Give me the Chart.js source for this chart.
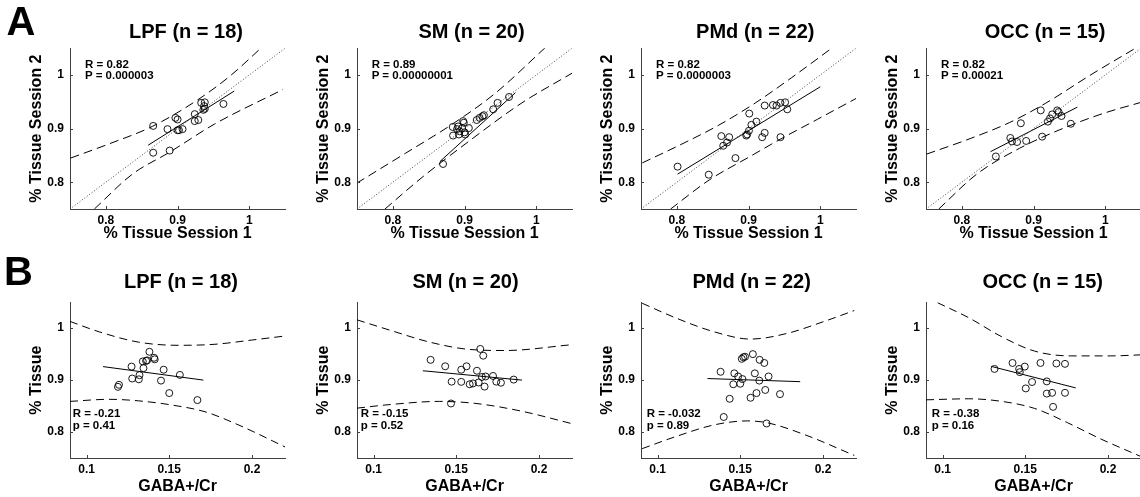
<!DOCTYPE html>
<html><head><meta charset="utf-8">
<script src="https://cdn.jsdelivr.net/npm/chart.js@4.4.1/dist/chart.umd.min.js"></script>
<style>
html,body{margin:0;padding:0;}
body{width:1140px;height:497px;overflow:hidden;background:#fff;position:relative;font-family:"Liberation Sans",Arial,sans-serif;}
.t{position:absolute;font-weight:bold;white-space:nowrap;color:#000;line-height:1;}
</style></head><body>
<script>
// ---------- text ----------
const panelLetters = ['A', 'B'];
const regionTitles = ['LPF (n = 18)', 'SM (n = 20)', 'PMd (n = 22)', 'OCC (n = 15)'];
const reliabilityStats = [['R = 0.82', 'P = 0.000003'], ['R = 0.89', 'P = 0.00000001'], ['R = 0.82', 'P = 0.0000003'], ['R = 0.82', 'P = 0.00021']];
const gabaStats = [['R = -0.21', 'p = 0.41'], ['R = -0.15', 'p = 0.52'], ['R = -0.032', 'p = 0.89'], ['R = -0.38', 'p = 0.16']];
const session1Title = '% Tissue Session 1';
const session2Title = '% Tissue Session 2';
const gabaTitle = 'GABA+/Cr';
const tissueTitle = '% Tissue';

// ---------- ticks ----------
const sessionTicks = [0.8, 0.9, 1];
const sessionTickLabels = ['0.8', '0.9', '1'];
const tissueTicks = [0.8, 0.9, 1];
const tissueTickLabels = ['0.8', '0.9', '1'];
const gabaTicks = [0.1, 0.15, 0.2];
const gabaTickLabels = ['0.1', '0.15', '0.2'];

// ---------- A: session reliability ----------
const lpfSession1 = [0.866,0.866,0.886,0.889,0.897,0.900,0.900,0.902,0.907,0.924,0.924,0.929,0.933,0.937,0.938,0.938,0.936,0.964];
const lpfSession2 = [0.905,0.855,0.899,0.859,0.920,0.917,0.897,0.897,0.899,0.914,0.927,0.916,0.948,0.942,0.949,0.937,0.935,0.946];
const lpfSessionFit = [[0.859,0.869],[0.979,0.970]];
const lpfSessionUpper = [[0.7508,0.845],[0.8055,0.872],[0.8647,0.904],[0.9285,0.954],[0.974,0.999],[1.017,1.051]];
const lpfSessionLower = [[0.784,0.750],[0.837,0.815],[0.889,0.856],[0.951,0.908],[1.047,0.973]];

const smSession1 = [0.870,0.8835,0.884,0.8896,0.891,0.892,0.893,0.8965,0.898,0.899,0.900,0.901,0.906,0.917,0.921,0.925,0.927,0.940,0.946,0.962];
const smSession2 = [0.834,0.903,0.887,0.899,0.904,0.889,0.895,0.901,0.914,0.911,0.893,0.889,0.901,0.916,0.920,0.923,0.925,0.936,0.948,0.959];
const smSessionFit = [[0.866,0.839],[0.971,0.967]];
const smSessionUpper = [[0.7494,0.798],[0.8176,0.854],[0.8826,0.908],[0.9429,0.966],[1.0125,1.051]];
const smSessionLower = [[0.789,0.750],[0.8408,0.809],[0.9057,0.876],[0.98,0.948],[1.052,1.005]];

const pmdSession1 = [0.801,0.8445,0.862,0.8647,0.870,0.873,0.8817,0.8968,0.898,0.901,0.9005,0.904,0.911,0.919,0.9225,0.9225,0.934,0.939,0.9445,0.9445,0.951,0.954];
const pmdSession2 = [0.829,0.814,0.886,0.868,0.874,0.884,0.845,0.887,0.889,0.928,0.896,0.907,0.913,0.884,0.892,0.943,0.944,0.943,0.948,0.884,0.949,0.936];
const pmdSessionFit = [[0.801,0.815],[1.0,0.978]];
const pmdSessionUpper = [[0.7518,0.836],[0.8128,0.875],[0.8587,0.9066],[0.9092,0.9476],[0.9596,0.9946],[1.017,1.051]];
const pmdSessionLower = [[0.7913,0.75],[0.845,0.804],[0.9,0.8464],[0.944,0.880],[0.9963,0.9175],[1.0505,0.9566]];

const occSession1 = [0.8474,0.8676,0.870,0.877,0.8823,0.8897,0.910,0.912,0.920,0.923,0.926,0.933,0.935,0.939,0.952];
const occSession2 = [0.848,0.8825,0.876,0.875,0.910,0.877,0.934,0.885,0.913,0.919,0.9265,0.934,0.931,0.9235,0.909];
const occSessionFit = [[0.840,0.857],[0.961,0.940]];
const occSessionUpper = [[0.7508,0.8524],[0.8115,0.8813],[0.8667,0.9114],[0.9172,0.9476],[0.9816,1.0018],[1.046,1.053]];
const occSessionLower = [[0.7678,0.75],[0.8207,0.815],[0.8805,0.8633],[0.9448,0.9024],[1.0,0.9295],[1.05,0.949]];

const identityLine = [[0.75,0.75],[1.05,1.05]];

// ---------- B: tissue vs GABA+/Cr ----------
const lpfGaba = [0.119,0.1196,0.1272,0.1276,0.1316,0.1320,0.134,0.1344,0.136,0.1366,0.138,0.1408,0.1412,0.145,0.1466,0.150,0.1564,0.167];
const lpfTissue = [0.887,0.891,0.926,0.903,0.9015,0.9095,0.936,0.923,0.937,0.938,0.9545,0.943,0.940,0.899,0.920,0.875,0.910,0.8615];
const lpfGabaFit = [[0.110,0.926],[0.1706,0.900]];
const lpfGabaUpper = [[0.09,1.013],[0.1076,0.993],[0.1316,0.973],[0.1556,0.967],[0.1776,0.969],[0.1996,0.977],[0.2202,0.985]];
const lpfGabaLower = [[0.09,0.859],[0.1136,0.863],[0.1316,0.860],[0.1516,0.852],[0.1716,0.839],[0.1916,0.814],[0.2202,0.771]];

const smGaba = [0.1345,0.1433,0.1472,0.1468,0.153,0.153,0.1562,0.1581,0.1601,0.1625,0.1635,0.1645,0.1655,0.1663,0.1671,0.1677,0.1722,0.1742,0.177,0.1847];
const smTissue = [0.939,0.9266,0.897,0.855,0.920,0.8966,0.9266,0.892,0.8936,0.918,0.8954,0.960,0.906,0.947,0.8875,0.907,0.908,0.897,0.895,0.901];
const smGabaFit = [[0.1298,0.918],[0.1897,0.900]];
const smGabaUpper = [[0.09,1.016],[0.1103,0.9957],[0.1341,0.973],[0.158,0.959],[0.1798,0.957],[0.2194,0.968]];
const smGabaLower = [[0.09,0.846],[0.1103,0.853],[0.14,0.859],[0.1619,0.855],[0.1897,0.840],[0.2194,0.8165]];

const pmdGaba = [0.1381,0.140,0.1436,0.1458,0.1464,0.1487,0.150,0.1509,0.1513,0.1519,0.1529,0.1562,0.1576,0.1588,0.1598,0.1615,0.1617,0.1645,0.1651,0.1659,0.1671,0.174];
const pmdTissue = [0.916,0.829,0.864,0.892,0.913,0.907,0.893,0.941,0.902,0.944,0.945,0.866,0.950,0.913,0.875,0.899,0.939,0.933,0.881,0.8165,0.907,0.873];
const pmdGabaFit = [[0.1302,0.903],[0.1862,0.897]];
const pmdGabaUpper = [[0.0907,1.048],[0.1108,1.020],[0.1345,0.9927],[0.1562,0.979],[0.1779,0.9896],[0.2016,1.014],[0.2189,1.034]];
const pmdGabaLower = [[0.0907,0.768],[0.1108,0.791],[0.1345,0.814],[0.1542,0.8214],[0.1661,0.818],[0.1897,0.794],[0.2189,0.755]];

const occGaba = [0.1314,0.1423,0.1463,0.1467,0.1497,0.1503,0.1541,0.1592,0.163,0.163,0.1662,0.1668,0.1688,0.174,0.174];
const occTissue = [0.9215,0.933,0.9215,0.9153,0.926,0.884,0.8963,0.933,0.8975,0.874,0.8755,0.8485,0.932,0.9313,0.8755];
const occGabaFit = [[0.1294,0.9264],[0.1805,0.885]];
const occGabaUpper = [[0.097,1.049],[0.1159,1.020],[0.1358,0.9834],[0.1557,0.9558],[0.1775,0.9466],[0.2014,0.9466],[0.2205,0.9487]];
const occGabaLower = [[0.09,0.862],[0.1159,0.864],[0.1358,0.859],[0.1557,0.8454],[0.1755,0.818],[0.1954,0.787],[0.2205,0.752]];

// ---------- layout ----------
const FONT = '"Liberation Sans", Arial, Helvetica, sans-serif';
const colLefts = [70, 357, 641, 926];
const plotW = 217;
const topRow = {top: 43, h: 166, xH: 38};
const botRow = {top: 297, h: 161, xH: 42};
const topTitleCenters = [186, 471.5, 755.3, 1045];
const botTitleCenters = [181, 465.5, 751.7, 1042.7];
const topStatLefts = [85, 371.7, 656, 941];
const botStatLefts = [72.7, 360.7, 646.7, 931.7];

function addText(txt, left, baseline, size, center) {
  const d = document.createElement('div');
  d.className = 't';
  d.textContent = txt;
  d.style.fontSize = size + 'px';
  d.style.top = (baseline - 0.8465 * size) + 'px';
  d.style.left = left + 'px';
  if (center) d.style.transform = 'translateX(-50%)';
  document.body.appendChild(d);
}

const innerTicks = {
  id: 'innerTicks',
  afterDraw(chart) {
    const {ctx, chartArea: a, scales} = chart;
    ctx.save();
    ctx.strokeStyle = '#404040';
    ctx.lineWidth = 1;
    ctx.beginPath();
    scales.x.ticks.forEach(t => {
      const px = Math.round(scales.x.getPixelForValue(t.value)) + 0.5;
      ctx.moveTo(px, a.bottom); ctx.lineTo(px, a.bottom - 3);
    });
    scales.y.ticks.forEach(t => {
      const py = Math.round(scales.y.getPixelForValue(t.value)) + 0.5;
      ctx.moveTo(a.left, py); ctx.lineTo(a.left + 3, py);
    });
    ctx.stroke();
    ctx.restore();
  }
};

const toXY = arr => arr.map(p => ({x: p[0], y: p[1]}));
const zipXY = (xs, ys) => xs.map((x, i) => ({x, y: ys[i]}));

function makePanel(c) {
  const padTop = 8, padRight = 3, yW = 70;
  const W = yW + plotW + padRight, H = padTop + c.row.h + c.row.xH;
  const cv = document.createElement('canvas');
  cv.width = W; cv.height = H;
  cv.style.cssText = `position:absolute;left:${c.left - yW}px;top:${c.row.top - padTop}px;width:${W}px;height:${H}px;`;
  document.body.appendChild(cv);

  const dash = c.dash;
  const datasets = [];
  if (c.identity) datasets.push({data: toXY(c.identity), showLine: true, borderColor: '#444', borderWidth: 1, borderDash: [1, 2], pointRadius: 0});
  datasets.push({data: toXY(c.upper), showLine: true, borderColor: '#000', borderWidth: 1, borderDash: dash, pointRadius: 0, cubicInterpolationMode: 'monotone'});
  datasets.push({data: toXY(c.lower), showLine: true, borderColor: '#000', borderWidth: 1, borderDash: dash, pointRadius: 0, cubicInterpolationMode: 'monotone'});
  datasets.push({data: toXY(c.fit), showLine: true, borderColor: '#000', borderWidth: 1, pointRadius: 0});
  datasets.push({data: zipXY(c.xs, c.ys), showLine: false, pointRadius: 3.5, pointBorderWidth: 0.9, pointBorderColor: '#000', pointBackgroundColor: 'rgba(0,0,0,0)', pointStyle: 'circle'});

  new Chart(cv, {
    type: 'scatter',
    data: {datasets},
    plugins: [innerTicks],
    options: {
      responsive: false, animation: false, devicePixelRatio: 1,
      layout: {padding: {top: padTop, right: padRight, left: 0, bottom: 0}},
      plugins: {legend: {display: false}, tooltip: {enabled: false}, title: {display: false}},
      scales: {
        x: {
          type: 'linear', min: c.xMin, max: c.xMax,
          afterFit: s => { s.height = c.row.xH; },
          afterBuildTicks: s => { s.ticks = c.xTicks.map(v => ({value: v})); },
          ticks: {callback: (v, i) => c.xLabels[i], font: {family: FONT, size: 12, weight: 'bold'}, color: '#000', padding: 4, maxRotation: 0, autoSkip: false},
          grid: {display: false, drawTicks: false},
          border: {display: true, color: '#404040', width: 1},
          title: {display: true, text: c.xTitle, font: {family: FONT, size: 16, weight: 'bold'}, color: '#000', padding: {top: 0, bottom: 4}}
        },
        y: {
          type: 'linear', min: 0.75, max: 1.05,
          afterFit: s => { s.width = yW; },
          afterBuildTicks: s => { s.ticks = c.yTicks.map(v => ({value: v})); },
          ticks: {callback: (v, i) => c.yLabels[i], font: {family: FONT, size: 12, weight: 'bold'}, color: '#000', padding: 6, autoSkip: false},
          grid: {display: false, drawTicks: false},
          border: {display: true, color: '#404040', width: 1},
          title: {display: true, text: c.yTitle, font: {family: FONT, size: 16, weight: 'bold'}, color: '#000', padding: {top: 27, bottom: 0}}
        }
      }
    }
  });
}

const sessionPanels = [
  [lpfSession1, lpfSession2, lpfSessionFit, lpfSessionUpper, lpfSessionLower],
  [smSession1, smSession2, smSessionFit, smSessionUpper, smSessionLower],
  [pmdSession1, pmdSession2, pmdSessionFit, pmdSessionUpper, pmdSessionLower],
  [occSession1, occSession2, occSessionFit, occSessionUpper, occSessionLower]
];
const gabaPanels = [
  [lpfGaba, lpfTissue, lpfGabaFit, lpfGabaUpper, lpfGabaLower],
  [smGaba, smTissue, smGabaFit, smGabaUpper, smGabaLower],
  [pmdGaba, pmdTissue, pmdGabaFit, pmdGabaUpper, pmdGabaLower],
  [occGaba, occTissue, occGabaFit, occGabaUpper, occGabaLower]
];

sessionPanels.forEach((p, i) => makePanel({
  left: colLefts[i], row: topRow, xMin: 0.75, xMax: 1.05,
  xs: p[0], ys: p[1], fit: p[2], upper: p[3], lower: p[4], identity: identityLine,
  xTicks: sessionTicks, xLabels: sessionTickLabels, yTicks: sessionTicks, yLabels: sessionTickLabels,
  xTitle: session1Title, yTitle: session2Title, dash: [9, 5]
}));
gabaPanels.forEach((p, i) => makePanel({
  left: colLefts[i], row: botRow, xMin: 0.09, xMax: 0.22,
  xs: p[0], ys: p[1], fit: p[2], upper: p[3], lower: p[4], identity: null,
  xTicks: gabaTicks, xLabels: gabaTickLabels, yTicks: tissueTicks, yLabels: tissueTickLabels,
  xTitle: gabaTitle, yTitle: tissueTitle, dash: [8, 5]
}));

// titles, letters, statistics
regionTitles.forEach((t, i) => {
  addText(t, topTitleCenters[i], 38, 20, true);
  addText(t, botTitleCenters[i], 287.7, 20, true);
  addText(reliabilityStats[i][0], topStatLefts[i], 69, 11.5, false);
  addText(reliabilityStats[i][1], topStatLefts[i], 80, 11.5, false);
  addText(gabaStats[i][0], botStatLefts[i], 418, 11.5, false);
  addText(gabaStats[i][1], botStatLefts[i], 430, 11.5, false);
});
addText(panelLetters[0], 6.5, 35, 40, false);
addText(panelLetters[1], 4, 285, 40, false);
</script>
</body></html>
